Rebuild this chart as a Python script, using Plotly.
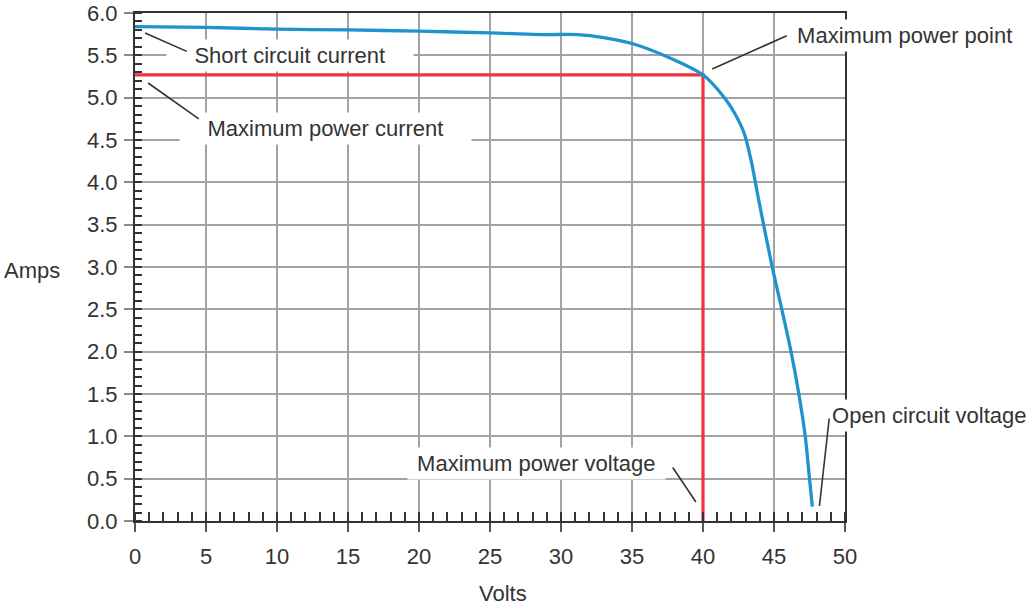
import plotly.graph_objects as go

# ---- data ----
volts = [0.0, 5.0, 10.0, 15.0, 20.0, 25.0, 28.8, 31.2, 33.0, 35.0, 37.8,
         40.0, 41.55, 42.25, 42.9, 43.4, 43.9, 44.85, 45.55, 46.2, 46.75, 47.2, 47.5, 47.7]
amps = [5.84, 5.83, 5.81, 5.80, 5.785, 5.765, 5.745, 5.745, 5.71, 5.64, 5.46,
        5.27, 4.99, 4.81, 4.58, 4.25, 3.81, 3.02, 2.50, 2.00, 1.50, 1.00, 0.50, 0.17]

mpp_volts = 40.0
mpp_amps = 5.27

x_ticks = [0, 5, 10, 15, 20, 25, 30, 35, 40, 45, 50]
y_ticks = [0.0, 0.5, 1.0, 1.5, 2.0, 2.5, 3.0, 3.5, 4.0, 4.5, 5.0, 5.5, 6.0]

# text labels
label_texts = ["Short circuit current", "Maximum power current", "Maximum power point",
               "Maximum power voltage", "Open circuit voltage"]
label_x = [10.95, 13.45, 1.0831, 28.27, 1.1190]
label_xref = ["x", "x", "paper", "x", "paper"]
label_y = [5.50, 4.64, 5.74, 0.685, 1.252]
label_pad = [4, 4, 1, 1, 1]

# leader lines: tip (x, y) -> tail (x, y)
leader_tip_x = [0.71, 0.92, 40.65, 39.5, 48.2]
leader_tip_y = [5.763, 5.173, 5.338, 0.224, 0.177]
leader_tail_x = [3.75, 4.6, 46.0, 37.8, 48.9]
leader_tail_y = [5.539, 4.736, 5.74, 0.65, 1.228]

FONT = "Liberation Sans, Arial, Helvetica, sans-serif"
TEXT_COLOR = "#333333"
GRID = "#a3a3a3"

fig = go.Figure()

# maximum power rectangle lines (red)
fig.add_trace(go.Scatter(
    x=[0, mpp_volts, mpp_volts], y=[mpp_amps, mpp_amps, 0],
    mode="lines", line=dict(color="#f2333f", width=3.2),
    hoverinfo="skip", showlegend=False))

# I-V curve (blue)
fig.add_trace(go.Scatter(
    x=volts, y=amps, mode="lines",
    line=dict(color="#1f93cc", width=3.3, shape="spline", smoothing=0.8),
    showlegend=False))

annotations = []
for t, x, xr, y, p in zip(label_texts, label_x, label_xref, label_y, label_pad):
    pad = "\u00a0" * p
    annotations.append(dict(
        text=pad + t + pad, x=x, y=y, xref=xr, yref="y",
        showarrow=False, xanchor="center", yanchor="middle",
        bgcolor="white", borderpad=3,
        font=dict(family=FONT, size=22, color=TEXT_COLOR)))

for tx, ty, ax, ay in zip(leader_tip_x, leader_tip_y, leader_tail_x, leader_tail_y):
    annotations.append(dict(
        text="", x=tx, y=ty, xref="x", yref="y",
        ax=ax, ay=ay, axref="x", ayref="y",
        showarrow=True, arrowhead=0, arrowwidth=1.6, arrowcolor="#333333",
        standoff=0, startstandoff=0))

annotations.append(dict(
    text="Amps", x=-0.1028, y=0.494, xref="paper", yref="paper",
    xanchor="right", yanchor="middle", showarrow=False,
    font=dict(family=FONT, size=22, color=TEXT_COLOR)))
annotations.append(dict(
    text="Volts", x=25.9, y=-0.142, xref="x", yref="paper",
    xanchor="center", yanchor="middle", showarrow=False,
    font=dict(family=FONT, size=22, color=TEXT_COLOR)))

fig.update_layout(
    width=1034, height=609, autosize=False,
    margin=dict(l=135, r=189, t=13, b=88, pad=0),
    paper_bgcolor="white", plot_bgcolor="white",
    font=dict(family=FONT, size=22, color=TEXT_COLOR),
    annotations=annotations,
    xaxis=dict(
        range=[0, 50], tickvals=x_ticks, ticktext=[str(v) for v in x_ticks],
        automargin=False,
        showgrid=True, gridcolor=GRID, gridwidth=1.6,
        showline=True, linecolor="#333333", linewidth=2, mirror=True,
        ticks="outside", ticklen=9, tickwidth=1.6, tickcolor="#555555",
        tickfont=dict(family=FONT, size=22, color=TEXT_COLOR),
        ticklabelstandoff=6, zeroline=False,
        minor=dict(dtick=1, tick0=0, ticks="inside", ticklen=9, tickwidth=1.6,
                   tickcolor="#333333", showgrid=False)),
    yaxis=dict(
        range=[0, 6], tickvals=y_ticks, ticktext=[f"{v:.1f}" for v in y_ticks],
        automargin=False,
        showgrid=True, gridcolor=GRID, gridwidth=1.6,
        showline=True, linecolor="#333333", linewidth=2, mirror=True,
        ticks="outside", ticklen=9, tickwidth=1.6, tickcolor="#888888",
        tickfont=dict(family=FONT, size=22, color=TEXT_COLOR),
        ticklabelstandoff=2, zeroline=False,
        minor=dict(dtick=0.1, tick0=0, ticks="inside", ticklen=7, tickwidth=1.6,
                   tickcolor="#333333", showgrid=False)),
)

fig.write_html("out.html", config={"displayModeBar": False},
               post_script="document.body.style.margin='0px';document.body.style.overflow='hidden';")
